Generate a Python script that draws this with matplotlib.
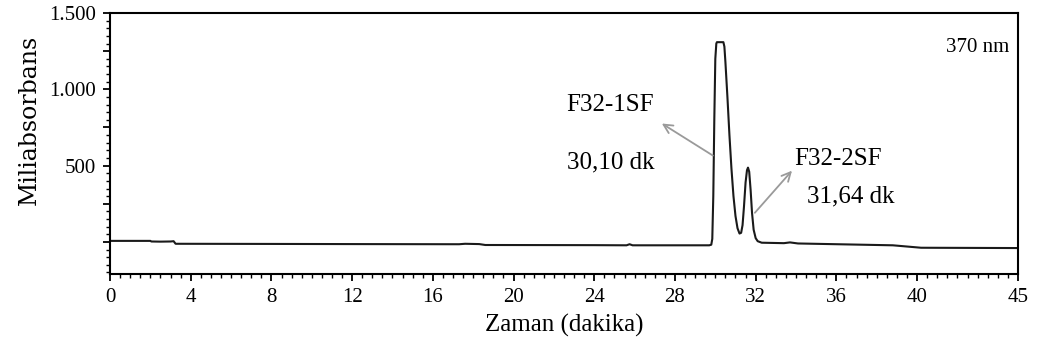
import matplotlib
matplotlib.use("Agg")
import matplotlib.pyplot as plt
from matplotlib.ticker import MultipleLocator, FixedLocator

# Chromatogram trace at 370 nm: retention time (min) vs. absorbance (mAU)
time_min = [
    0.0, 2.0, 2.05, 2.5, 3.0, 3.15, 3.25, 8.0, 12.0, 17.3, 17.6, 18.3, 18.6,
    24.0, 25.6, 25.75, 25.9, 29.7, 29.8, 29.85, 29.9, 29.95, 30.0, 30.05,
    30.08, 30.4, 30.45, 30.5, 30.6, 30.7, 30.8, 30.9, 31.0, 31.1, 31.2,
    31.28, 31.35, 31.42, 31.5, 31.57, 31.62, 31.68, 31.75, 31.82, 31.9,
    32.0, 32.1, 32.3, 33.4, 33.7, 34.1, 38.8, 39.5, 40.2, 45.0,
]
absorbance = [
    7, 7, 3, 2, 3, 5, -12, -13, -14, -15, -12, -14, -20,
    -21, -22, -15, -22, -22, -18, 20, 300, 800, 1200, 1300,
    1309, 1309, 1280, 1180, 950, 700, 480, 300, 170, 90, 55,
    60, 110, 230, 390, 470, 487, 460, 340, 190, 80,
    25, 5, -5, -8, -3, -10, -22, -30, -38, -40,
]

x_ticks = [0, 4, 8, 12, 16, 20, 24, 28, 32, 36, 40, 45]
y_ticks = [0, 250, 500, 750, 1000, 1250, 1500]
y_tick_labels = ["", "", "500", "", "1.000", "", "1.500"]

peak_names = ["F32-1SF", "F32-2SF"]
peak_times = ["30,10 dk", "31,64 dk"]
wavelength = "370 nm"

serif = "Liberation Serif"

fig = plt.figure(figsize=(10.4, 3.52), dpi=100)
ax = fig.add_axes([0.1058, 0.2216, 0.8730, 0.7414])

ax.plot(time_min, absorbance, color="#1a1a1a", lw=1.5, solid_joinstyle="round")

ax.set_xlim(0, 45)
ax.set_ylim(-210, 1500)

ax.xaxis.set_major_locator(FixedLocator(x_ticks))
ax.xaxis.set_minor_locator(MultipleLocator(0.5))
ax.set_xticklabels([str(t) for t in x_ticks], fontfamily=serif, fontsize=15)
ax.yaxis.set_major_locator(FixedLocator(y_ticks))
ax.yaxis.set_minor_locator(MultipleLocator(50))
ax.set_yticklabels(y_tick_labels, fontfamily=serif, fontsize=15)

ax.tick_params(which="major", direction="out", length=5, width=1.3,
               color="black", pad=5)
ax.tick_params(which="minor", direction="out", length=3, width=1.0,
               color="black")
for sp in ax.spines.values():
    sp.set_linewidth(1.5)
    sp.set_color("black")

ax.set_xlabel("Zaman (dakika)", fontfamily=serif, fontsize=18, labelpad=5)
ax.set_ylabel("Miliabsorbans", fontfamily="DejaVu Serif", fontsize=17)
ax.yaxis.set_label_coords(-0.076, 0.59)

arrow_kw = dict(arrowstyle="->", color="#9a9a9a", lw=1.3,
                mutation_scale=16, shrinkA=0, shrinkB=0)
ax.annotate("", xy=(27.35, 776), xytext=(29.88, 566), arrowprops=arrow_kw)
ax.annotate("", xy=(33.8, 467), xytext=(31.96, 191), arrowprops=arrow_kw)

ax.text(24.8, 895, peak_names[0], ha="center", va="center",
        fontfamily=serif, fontsize=18)
ax.text(24.8, 520, peak_times[0], ha="center", va="center",
        fontfamily=serif, fontsize=18)
ax.text(36.1, 546, peak_names[1], ha="center", va="center",
        fontfamily=serif, fontsize=18)
ax.text(36.7, 296, peak_times[1], ha="center", va="center",
        fontfamily=serif, fontsize=18)
ax.text(43.0, 1276, wavelength, ha="center", va="center",
        fontfamily=serif, fontsize=15)

fig.savefig("out.png", dpi=100)
